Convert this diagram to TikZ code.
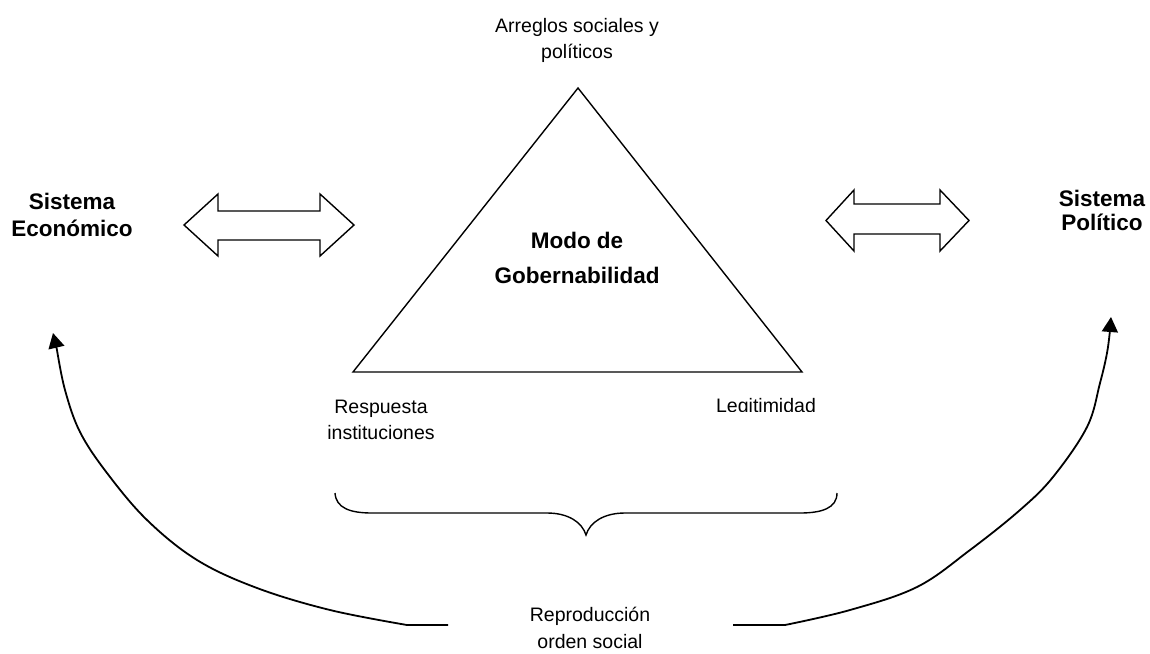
\documentclass[tikz,border=0pt]{standalone}
\usepackage{fontspec}
\setmainfont{Liberation Sans}
\usetikzlibrary{arrows.meta}
\tikzset{
  lbl/.style={align=center, inner sep=0pt, font=\fontsize{19.5}{26}\selectfont},
  blbl/.style={align=center, inner sep=0pt, font=\fontsize{22.5}{27}\selectfont\bfseries},
  shape line/.style={line width=1.4pt, line join=miter},
  curvearrow/.style={line width=1.8pt, -{Triangle[width=16pt,length=15pt]}},
}
\begin{document}
\begin{tikzpicture}[x=1pt, y=-1pt]
\useasboundingbox (0,0) rectangle (1150,653);
% triangle
\coordinate (apex) at (578,88);
\coordinate (bl) at (353,372);
\coordinate (br) at (802,372);
\draw[shape line] (apex) -- (bl) -- (br) -- cycle;
% labels
\node[lbl] (arreglos) at (577,40) {Arreglos sociales y\\políticos};
\node[blbl, font=\fontsize{22.5}{35}\selectfont\bfseries] (modo) at (577,258) {Modo de\\Gobernabilidad};
\node[blbl] (eco) at (72,215) {Sistema\\Económico};
\node[blbl, font=\fontsize{22.5}{24}\selectfont\bfseries] (pol) at (1102,210) {Sistema\\Político};
\node[lbl] (resp) at (381,420) {Respuesta\\instituciones};
\begin{scope}
\clip (690,380) rectangle (840,411);
\node[lbl, anchor=base] (legit) at (766,412) {Legitimidad};
\end{scope}
\node[lbl, font=\fontsize{19.5}{27}\selectfont] (repro) at (590,628) {Reproducción\\orden social};
% double arrows
\draw[shape line] (184,225) -- (218,194) -- (218,211) -- (320,211) -- (320,194) -- (354,225)
  -- (320,256) -- (320,240) -- (218,240) -- (218,256) -- cycle;
\draw[shape line] (826,220.5) -- (854,190) -- (854,204) -- (940,204) -- (940,190) -- (969,220.5)
  -- (940,251) -- (940,234) -- (854,234) -- (854,251) -- cycle;
% brace
\coordinate (braceL) at (335,493);
\coordinate (braceR) at (837,493);
\coordinate (braceTip) at (586,535);
\draw[line width=1.4pt] (braceL) .. controls (336,508) and (350,513) .. (372,513)
  -- (547,513) .. controls (568,513) and (582,522) .. (braceTip)
  .. controls (590,522) and (604,513) .. (625,513)
  -- (800,513) .. controls (822,513) and (837,508) .. (braceR);
% curved arrows
\coordinate (lstart) at (448,625);
\coordinate (ltip) at (53,333);
\coordinate (rstart) at (733,625);
\coordinate (rtip) at (1111,317);
\draw[curvearrow] (lstart) -- (407,625) plot[smooth, tension=0.6] coordinates {(407,625) (330,610) (257,588) (197,560) (147,520) (107,473) (80,432) (65,390) (57,350)} -- (ltip);
\draw[curvearrow] (rstart) -- (785,625) plot[smooth, tension=0.6] coordinates {(785,625) (850,610) (917,587) (970,550) (1020,510) (1053,477) (1087,427) (1100,383) (1107,353) (1110,330)} -- (rtip);
\end{tikzpicture}
\end{document}
